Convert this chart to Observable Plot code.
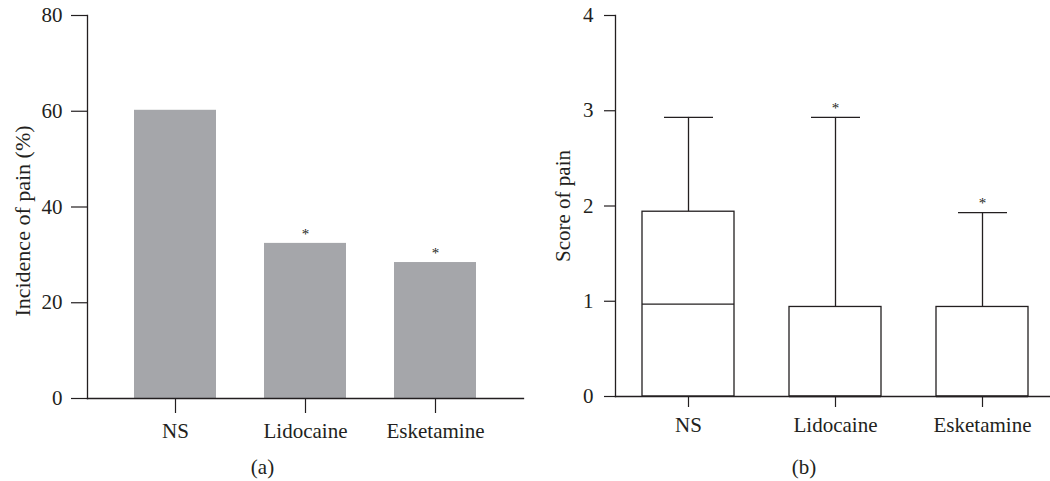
<!DOCTYPE html>
<html>
<head>
<meta charset="utf-8">
<script src="https://cdn.jsdelivr.net/npm/d3@7"></script>
<script src="https://cdn.jsdelivr.net/npm/@observablehq/plot@0.6"></script>
<style>
  html, body { margin: 0; padding: 0; background: #fff; }
  body { width: 1050px; height: 481px; overflow: hidden; font-family: "Liberation Serif", serif; color: #231f20; }
  #wrap { display: flex; flex-direction: row; }
  .panel { width: 525px; }
  .cap { font-size: 21px; line-height: 22px; text-align: center; font-family: "Liberation Serif", serif; }
  svg { display: block; }
  svg, svg text { font-family: "Liberation Serif", serif !important; }
</style>
</head>
<body>
<div id="wrap">
  <div class="panel" id="pa"></div>
  <div class="panel" id="pb"></div>
</div>
<script>
// Panel (a): incidence of pain
const groups = ["NS", "Lidocaine", "Esketamine"];
const incidence = [60.2, 32.4, 28.4];
const incidenceSig = [false, true, true];
const incidenceTicks = [0, 20, 40, 60, 80];

// Panel (b): score of pain, box plot summaries
const scoreMin = [0, 0, 0];
const scoreQ1 = [0, 0, 0];
const scoreMedian = [0.97, 0, 0];
const scoreQ3 = [1.94, 0.94, 0.94];
const scoreMax = [2.93, 2.93, 1.93];
const scoreSig = [false, true, true];
const scoreTicks = [0, 1, 2, 3, 4];

const ink = "#231f20";
const serif = "Liberation Serif, serif";
const fs = 21;
const font = {fontFamily: serif, fontSize: fs + "px", color: ink, background: "#fff", overflow: "visible"};

const barData = groups.map((g, i) => ({group: g, value: incidence[i], sig: incidenceSig[i]}));
const boxData = groups.map((g, i) => ({group: g, min: scoreMin[i], q1: scoreQ1[i], median: scoreMedian[i], q3: scoreQ3[i], max: scoreMax[i], sig: scoreSig[i]}));

const plotA = Plot.plot({
  width: 525, height: 450,
  marginLeft: 87, marginRight: 2, marginTop: 15, marginBottom: 52,
  style: font,
  x: {domain: groups, paddingInner: 0.372, paddingOuter: 0.357, label: null},
  y: {domain: [0, 80], label: null},
  marks: [
    Plot.barY(barData, {x: "group", y: "value", fill: "#a5a6aa"}),
    Plot.text(barData.filter(d => d.sig), {x: "group", y: "value", text: () => "*", dy: -9, fontSize: 15, fill: ink, fontFamily: serif}),
    Plot.axisY({ticks: incidenceTicks, tickFormat: "d", tickSize: 16, tickPadding: 9, label: null, stroke: ink, strokeWidth: 1.2, fontFamily: serif, fontSize: fs}),
    Plot.axisX({tickSize: 15, tickPadding: 10, label: null, stroke: ink, strokeWidth: 1.2, fontFamily: serif, fontSize: fs}),
    Plot.frame({anchor: "left", stroke: ink, strokeWidth: 1.3}),
    Plot.frame({anchor: "bottom", stroke: ink, strokeWidth: 1.3}),
    Plot.text(["Incidence of pain (%)"], {frameAnchor: "left", textAnchor: "middle", dx: -65, dy: 14, rotate: -90, fill: ink, fontSize: 22, fontFamily: serif})
  ]
});

const plotB = Plot.plot({
  width: 525, height: 450,
  marginLeft: 90, marginRight: 0, marginTop: 15, marginBottom: 54,
  style: font,
  x: {domain: groups, paddingInner: 0.375, paddingOuter: 0.1645, align: 0.557, label: null},
  y: {domain: [0, 4], label: null},
  marks: [
    Plot.ruleX(boxData, {x: "group", y1: "q3", y2: "max", stroke: ink, strokeWidth: 1.3}),
    Plot.ruleX(boxData, {x: "group", y1: "min", y2: "q1", stroke: ink, strokeWidth: 1.3}),
    Plot.tickY(boxData, {x: "group", y: "max", stroke: ink, strokeWidth: 1.3, insetLeft: 22, insetRight: 21}),
    Plot.barY(boxData, {x: "group", y1: "q1", y2: "q3", fill: "#fff", stroke: ink, strokeWidth: 1.3}),
    Plot.tickY(boxData, {x: "group", y: "median", stroke: ink, strokeWidth: 1.3}),
    Plot.text(boxData.filter(d => d.sig), {x: "group", y: "max", text: () => "*", dy: -9, fontSize: 15, fill: ink, fontFamily: serif}),
    Plot.axisY({ticks: scoreTicks, tickFormat: "d", tickSize: 11, tickPadding: 11, label: null, stroke: ink, strokeWidth: 1.2, fontFamily: serif, fontSize: fs}),
    Plot.axisX({tickSize: 11, tickPadding: 10, label: null, stroke: ink, strokeWidth: 1.2, fontFamily: serif, fontSize: fs}),
    Plot.frame({anchor: "left", stroke: ink, strokeWidth: 1.3}),
    Plot.frame({anchor: "bottom", stroke: ink, strokeWidth: 1.3}),
    Plot.text(["Score of pain"], {frameAnchor: "left", textAnchor: "middle", dx: -52, rotate: -90, fill: ink, fontSize: fs, fontFamily: serif})
  ]
});

const pa = document.getElementById("pa");
pa.appendChild(plotA);
const ca = document.createElement("div");
ca.className = "cap"; ca.style.paddingTop = "6px"; ca.textContent = "(a)";
pa.appendChild(ca);

const pb = document.getElementById("pb");
pb.appendChild(plotB);
const cb = document.createElement("div");
cb.className = "cap"; cb.style.paddingTop = "6px"; cb.style.paddingLeft = "33px"; cb.textContent = "(b)";
pb.appendChild(cb);
</script>
</body>
</html>
